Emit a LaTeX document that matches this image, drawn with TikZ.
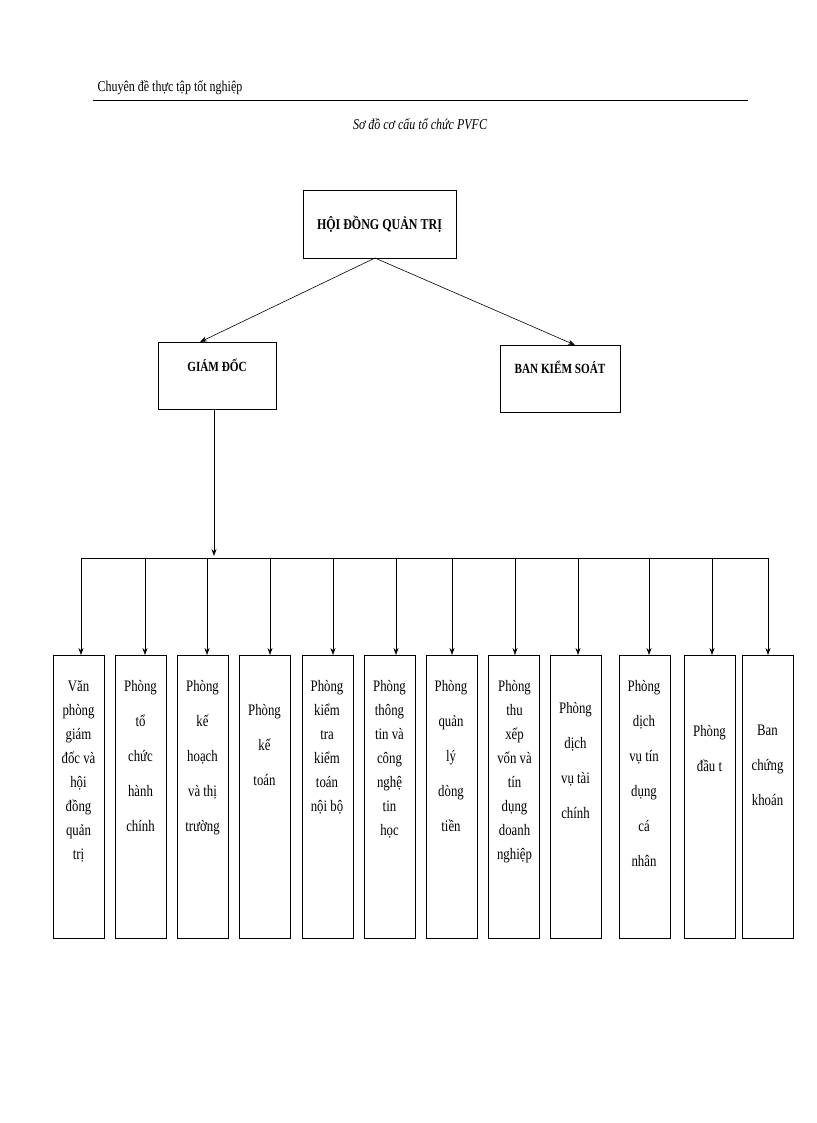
\documentclass[tikz,border=0pt]{standalone}
\usepackage{fontspec}
\setmainfont{Liberation Serif}[FakeStretch=0.8]
\usetikzlibrary{arrows.meta}
\begin{document}
\begin{tikzpicture}[x=1pt,y=-1pt,
  box/.style={draw,thick,inner sep=0},
  unit/.style={box,minimum width=51pt,minimum height=283pt,anchor=north west},
  lbl/.style={anchor=north,align=center,inner sep=0,font=\fontsize{16}{24}\selectfont},
  lblw/.style={anchor=north,align=center,inner sep=0,font=\fontsize{16}{35}\selectfont},
  arr/.style={-{Stealth[length=7pt,width=5pt]},semithick}]
\useasboundingbox (0,0) rectangle (816,1123);
\node[anchor=base west,font=\fontsize{15}{18}\selectfont] (hdr) at (94,92) {Chuyên đề thực tập tốt nghiệp};
\draw[thick] (93,100) -- (748,100);
\node[anchor=base,font=\itshape\fontsize{15}{18}\selectfont] (sub) at (420,130) {Sơ đồ cơ cấu tổ chức PVFC};
\node[box,minimum width=153pt,minimum height=68pt,font=\bfseries\fontsize{15}{18}\selectfont] (hd) at (379.5,224) {HỘI ĐỒNG QUẢN TRỊ};
\node[box,minimum width=118pt,minimum height=67pt,anchor=north west] (gd) at (158,342) {};
\node[font=\bfseries\fontsize{14}{18}\selectfont] (gdt) at (217,365) {GIÁM ĐỐC};
\node[box,minimum width=120pt,minimum height=67pt,anchor=north west] (bk) at (500,345) {};
\node[font=\bfseries\fontsize{14}{18}\selectfont] (bkt) at (560,367) {BAN KIỂM SOÁT};
\coordinate (hb) at (375,258);
\draw[arr] (hb) -- (gd.north -| 200,0);
\draw[arr] (hb) -- (bk.north -| 575,0);
\coordinate (busL) at (81,558);
\coordinate (busR) at (768,558);
\draw[arr] (gd.south -| 214,0) -- (214,556);
\draw[thick] (busL) -- (busR);
\foreach \x/\dx/\n in {53/81/1,115/145/2,177/207/3,239/270/4,302/333/5,364/396/6,426/452/7,488/515/8,550/578/9,619/649/10,684/712/11,742/768/12}{
  \node[unit] (u\n) at (\x,655) {};
  \draw[arr] (\dx,558) -- (u\n.north -| \dx,0);
}
\node[lbl]  (t1) at (78.5,680) {Văn\\phòng\\giám\\đốc và\\hội\\đồng\\quản\\trị};
\node[lblw] (t2) at (140.5,680) {Phòng\\tổ\\chức\\hành\\chính};
\node[lblw] (t3) at (202.5,680) {Phòng\\kế\\hoạch\\và thị\\trường};
\node[lblw] (t4) at (264.5,704) {Phòng\\kế\\toán};
\node[lbl]  (t5) at (327,680) {Phòng\\kiểm\\tra\\kiểm\\toán\\nội bộ};
\node[lbl]  (t6) at (389.5,680) {Phòng\\thông\\tin và\\công\\nghệ\\tin\\học};
\node[lblw] (t7) at (451,680) {Phòng\\quản\\lý\\dòng\\tiền};
\node[lbl]  (t8) at (514.5,680) {Phòng\\thu\\xếp\\vốn và\\tín\\dụng\\doanh\\nghiệp};
\node[lblw] (t9) at (575.5,702) {Phòng\\dịch\\vụ tài\\chính};
\node[lblw] (t10) at (644,680) {Phòng\\dịch\\vụ tín\\dụng\\cá\\nhân};
\node[lblw] (t11) at (709.5,725) {Phòng\\đầu t};
\node[lblw] (t12) at (767.5,725) {Ban\\chứng\\khoán};
\end{tikzpicture}
\end{document}
